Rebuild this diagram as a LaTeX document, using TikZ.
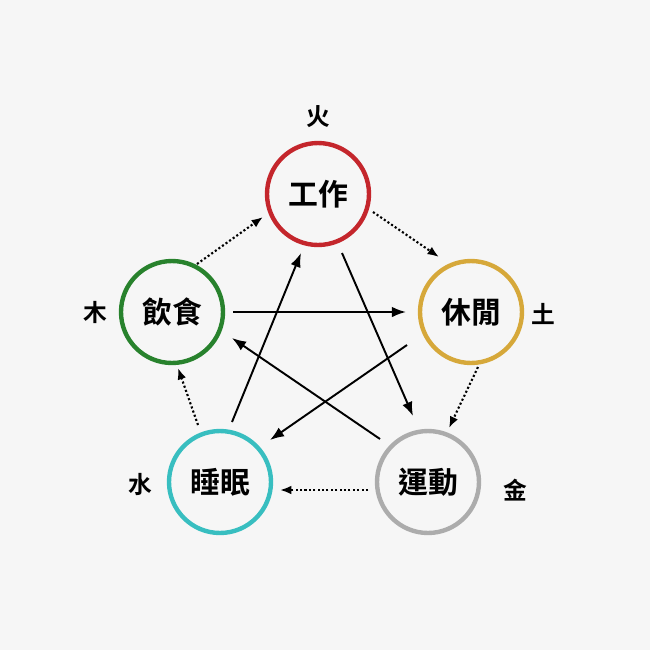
\documentclass[tikz,border=0pt]{standalone}
\usepackage{fontspec}
\newfontfamily\cjk{Noto Sans CJK TC}[BoldFont={* Bold}]
\usetikzlibrary{calc,arrows.meta}
\definecolor{bgc}{RGB}{246,246,246}
\definecolor{cred}{RGB}{196,38,44}
\definecolor{cgreen}{RGB}{40,130,45}
\definecolor{cgold}{RGB}{214,168,58}
\definecolor{cteal}{RGB}{56,190,192}
\definecolor{cgray}{RGB}{172,172,172}
\begin{document}
\begin{tikzpicture}[x=0.02cm,y=0.02cm,
  phase/.style={circle,draw,line width=2.5pt,minimum size=2.04cm,inner sep=0pt,
    font=\cjk\bfseries\fontsize{17}{17}\selectfont},
  elem/.style={font=\cjk\bfseries\fontsize{13.5}{13.5}\selectfont},
  solidarrow/.style={line width=1.1pt,-{Latex[length=8pt,width=6pt]}},
  dotarrow/.style={line width=1.2pt,dash pattern=on 1.2pt off 1.3pt,
    -{Latex[length=6.5pt,width=5pt]}}]
\fill[bgc] (0,0) rectangle (650,-650);
\useasboundingbox (0,0) rectangle (650,-650);
\node[phase,draw=cred]   (gz) at (318,-194) {工作};
\node[phase,draw=cgreen] (ys) at (172,-312) {飲食};
\node[phase,draw=cgold]  (xx) at (471,-312) {休閒};
\node[phase,draw=cteal]  (sm) at (220,-482) {睡眠};
\node[phase,draw=cgray]  (yd) at (428,-482) {運動};
\node[elem] (fire)  at (318,-117) {火};
\node[elem] (wood)  at (95,-312)  {木};
\node[elem] (earth) at (543,-314) {土};
\node[elem] (water) at (140,-485) {水};
\node[elem] (metal) at (515,-490) {金};
% solid arrows
\draw[solidarrow] ($(ys)+(61,0)$) -- ($(xx)+(-65,0)$);
\draw[solidarrow] ($(sm)+(12,60)$) -- ($(gz)+(-17,-59)$);
\draw[solidarrow] ($(gz)+(24,-59)$) -- ($(yd)+(-15,66)$);
\draw[solidarrow] ($(xx)+(-64,-33)$) -- ($(sm)+(50,42)$);
\draw[solidarrow] ($(yd)+(-48,43)$) -- ($(ys)+(60,-26)$);
% dotted arrows
\draw[dotarrow] ($(ys)+(25,48)$) -- ($(gz)+(-55,-23)$);
\draw[dotarrow] ($(gz)+(55,-18)$) -- ($(xx)+(-32,55)$);
\draw[dotarrow] ($(xx)+(7,-55)$) -- ($(yd)+(21,54)$);
\draw[dotarrow] ($(yd)+(-60,-8)$) -- ($(sm)+(60,-8)$);
\draw[dotarrow] ($(sm)+(-22,57)$) -- ($(ys)+(6,-56)$);
\end{tikzpicture}
\end{document}
